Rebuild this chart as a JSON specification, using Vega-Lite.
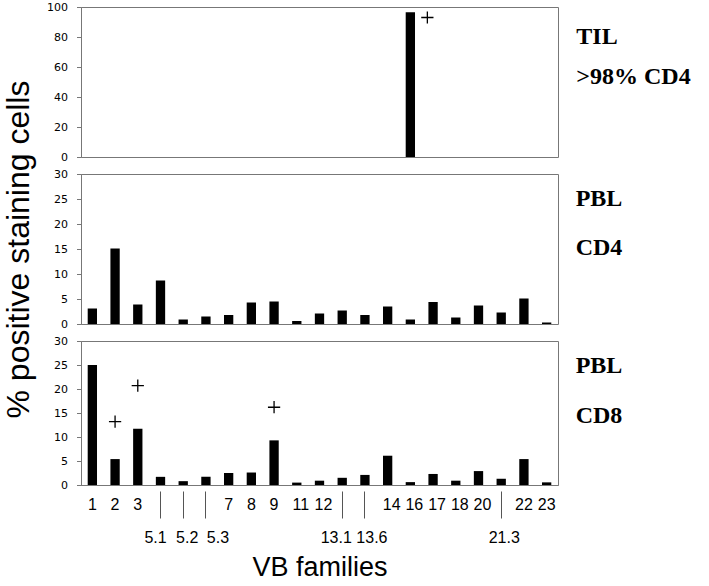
{
  "$schema": "https://vega.github.io/schema/vega-lite/v6.json",
  "padding": {"left": 2, "top": 0, "right": 5, "bottom": 5},
  "background": "white",
  "spacing": 17,
  "bounds": "flush",
  "datasets": {
    "bars": [
      {"panel": "TIL", "vb": "16", "pct": 96.5},
      {"panel": "CD4", "vb": "1", "pct": 3.1},
      {"panel": "CD4", "vb": "2", "pct": 15.1},
      {"panel": "CD4", "vb": "3", "pct": 3.9},
      {"panel": "CD4", "vb": "5.1", "pct": 8.7},
      {"panel": "CD4", "vb": "5.2", "pct": 0.9},
      {"panel": "CD4", "vb": "5.3", "pct": 1.5},
      {"panel": "CD4", "vb": "7", "pct": 1.8},
      {"panel": "CD4", "vb": "8", "pct": 4.3},
      {"panel": "CD4", "vb": "9", "pct": 4.5},
      {"panel": "CD4", "vb": "11", "pct": 0.6},
      {"panel": "CD4", "vb": "12", "pct": 2.1},
      {"panel": "CD4", "vb": "13.1", "pct": 2.7},
      {"panel": "CD4", "vb": "13.6", "pct": 1.8},
      {"panel": "CD4", "vb": "14", "pct": 3.5},
      {"panel": "CD4", "vb": "16", "pct": 0.9},
      {"panel": "CD4", "vb": "17", "pct": 4.4},
      {"panel": "CD4", "vb": "18", "pct": 1.3},
      {"panel": "CD4", "vb": "20", "pct": 3.7},
      {"panel": "CD4", "vb": "21.3", "pct": 2.3},
      {"panel": "CD4", "vb": "22", "pct": 5.1},
      {"panel": "CD4", "vb": "23", "pct": 0.3},
      {"panel": "CD8", "vb": "1", "pct": 25.0},
      {"panel": "CD8", "vb": "2", "pct": 5.4},
      {"panel": "CD8", "vb": "3", "pct": 11.7},
      {"panel": "CD8", "vb": "5.1", "pct": 1.7},
      {"panel": "CD8", "vb": "5.2", "pct": 0.8},
      {"panel": "CD8", "vb": "5.3", "pct": 1.7},
      {"panel": "CD8", "vb": "7", "pct": 2.5},
      {"panel": "CD8", "vb": "8", "pct": 2.6},
      {"panel": "CD8", "vb": "9", "pct": 9.3},
      {"panel": "CD8", "vb": "11", "pct": 0.5},
      {"panel": "CD8", "vb": "12", "pct": 0.9},
      {"panel": "CD8", "vb": "13.1", "pct": 1.5},
      {"panel": "CD8", "vb": "13.6", "pct": 2.1},
      {"panel": "CD8", "vb": "14", "pct": 6.1},
      {"panel": "CD8", "vb": "16", "pct": 0.6},
      {"panel": "CD8", "vb": "17", "pct": 2.3},
      {"panel": "CD8", "vb": "18", "pct": 0.9},
      {"panel": "CD8", "vb": "20", "pct": 2.9},
      {"panel": "CD8", "vb": "21.3", "pct": 1.3},
      {"panel": "CD8", "vb": "22", "pct": 5.4},
      {"panel": "CD8", "vb": "23", "pct": 0.55}
    ],
    "plus": [
      {"panel": "TIL", "vb": "16", "pct": 93},
      {"panel": "CD8", "vb": "2", "pct": 13.2},
      {"panel": "CD8", "vb": "3", "pct": 20.7},
      {"panel": "CD8", "vb": "9", "pct": 16.2}
    ]
  },
  "vconcat": [
    {
      "width": 477,
      "height": 150,
      "title": {"text": ["TIL", ">98% CD4"], "orient": "right", "frame": "group", "angle": 0, "anchor": "start", "align": "left", "baseline": "top", "offset": 18, "dx": -114, "dy": 18, "lineHeight": 40, "font": "Liberation Serif", "fontWeight": "bold", "fontSize": 24, "color": "black"},
      "layer": [
        {
          "data": {"name": "bars"},
          "transform": [{"filter": "datum.panel === 'TIL'"}],
          "mark": {"type": "bar", "color": "black"},
          "encoding": {
            "x": {"field": "vb", "type": "nominal", "scale": {"domain": ["1","2","3","5.1","5.2","5.3","7","8","9","11","12","13.1","13.6","14","16","17","18","20","21.3","22","23"], "paddingInner": 0.59, "paddingOuter": 0.295}, "axis": null},
            "y": {"field": "pct", "type": "quantitative", "scale": {"domain": [0, 100]}, "axis": {"values": [0, 20, 40, 60, 80, 100], "title": null}}
          }
        },
        {
          "data": {"name": "plus"},
          "transform": [{"filter": "datum.panel === 'TIL'"}],
          "mark": {"type": "point", "shape": "M-1,0L1,0M0,-1L0,1", "filled": false, "stroke": "black", "strokeWidth": 1.3, "size": 150, "opacity": 1, "xOffset": 17},
          "encoding": {
            "x": {"field": "vb", "type": "nominal", "axis": null},
            "y": {"field": "pct", "type": "quantitative", "axis": {"values": [0, 20, 40, 60, 80, 100], "title": null}}
          }
        }
      ]
    },
    {
      "width": 477,
      "height": 150,
      "title": {"text": ["PBL", "CD4"], "orient": "right", "frame": "group", "angle": 0, "anchor": "start", "align": "left", "baseline": "top", "offset": 18, "dx": -47, "dy": 13, "lineHeight": 49, "font": "Liberation Serif", "fontWeight": "bold", "fontSize": 24, "color": "black"},
      "layer": [
        {
          "data": {"name": "bars"},
          "transform": [{"filter": "datum.panel === 'CD4'"}],
          "mark": {"type": "bar", "color": "black"},
          "encoding": {
            "x": {"field": "vb", "type": "nominal", "scale": {"domain": ["1","2","3","5.1","5.2","5.3","7","8","9","11","12","13.1","13.6","14","16","17","18","20","21.3","22","23"], "paddingInner": 0.59, "paddingOuter": 0.295}, "axis": null},
            "y": {"field": "pct", "type": "quantitative", "scale": {"domain": [0, 30]}, "axis": {"values": [0, 5, 10, 15, 20, 25, 30], "title": "% positive staining cells", "titleFont": "Liberation Sans", "titleFontSize": 32, "titleFontWeight": "normal", "titleColor": "black", "titlePadding": 18}}
          }
        }
      ]
    },
    {
      "width": 477,
      "height": 144,
      "title": {"text": ["PBL", "CD8"], "orient": "right", "frame": "group", "angle": 0, "anchor": "start", "align": "left", "baseline": "top", "offset": 18, "dx": -47, "dy": 13, "lineHeight": 50, "font": "Liberation Serif", "fontWeight": "bold", "fontSize": 24, "color": "black"},
      "layer": [
        {
          "data": {"name": "bars"},
          "transform": [{"filter": "datum.panel === 'CD8'"}],
          "mark": {"type": "bar", "color": "black"},
          "encoding": {
            "x": {
              "field": "vb", "type": "nominal",
              "scale": {"domain": ["1","2","3","5.1","5.2","5.3","7","8","9","11","12","13.1","13.6","14","16","17","18","20","21.3","22","23"], "paddingInner": 0.59, "paddingOuter": 0.295},
              "axis": {
                "title": "VB families", "titleFont": "Liberation Sans", "titleFontSize": 27, "titleFontWeight": "normal", "titleColor": "black", "titlePadding": 9,
                "labelAngle": 0, "labelFont": "Liberation Sans", "labelFontSize": 16, "labelColor": "black", "labelOverlap": false,
                "labelPadding": 11,
                "labelOffset": {"condition": [
                  {"test": "datum.value === '5.1'", "value": -5},
                  {"test": "datum.value === '5.2'", "value": 4},
                  {"test": "datum.value === '5.3'", "value": 12},
                  {"test": "datum.value === '13.1'", "value": -6},
                  {"test": "datum.value === '13.6'", "value": 7},
                  {"test": "datum.value === '21.3'", "value": 3},
                  {"test": "indexof(['11','12','14','16','17','18','20'], datum.value) >= 0", "value": 4}
                ], "value": 0},
                "tickSize": {"condition": {"test": "indexof(['5.1','5.2','5.3','13.1','13.6','21.3'], datum.value) >= 0", "value": 33}, "value": 0},
                "tickDash": {"condition": {"test": "indexof(['5.1','5.2','5.3','13.1','13.6','21.3'], datum.value) >= 0", "value": [0, 6, 27, 100]}, "value": []},
                "tickColor": "#555"
              }
            },
            "y": {"field": "pct", "type": "quantitative", "scale": {"domain": [0, 30]}, "axis": {"values": [0, 5, 10, 15, 20, 25, 30], "title": null}}
          }
        },
        {
          "data": {"name": "plus"},
          "transform": [{"filter": "datum.panel === 'CD8'"}],
          "mark": {"type": "point", "shape": "M-1,0L1,0M0,-1L0,1", "filled": false, "stroke": "black", "strokeWidth": 1.3, "size": 150, "opacity": 1},
          "encoding": {
            "x": {"field": "vb", "type": "nominal"},
            "y": {"field": "pct", "type": "quantitative", "axis": {"values": [0, 5, 10, 15, 20, 25, 30], "title": null}}
          }
        }
      ]
    }
  ],
  "config": {
    "view": {"stroke": "#777"},
    "axis": {"grid": false, "domainColor": "#777", "tickColor": "#777", "labelFont": "DejaVu Sans", "labelFontSize": 11, "labelColor": "black", "tickSize": 4.5, "labelPadding": 9, "labelOverlap": false}
  }
}
